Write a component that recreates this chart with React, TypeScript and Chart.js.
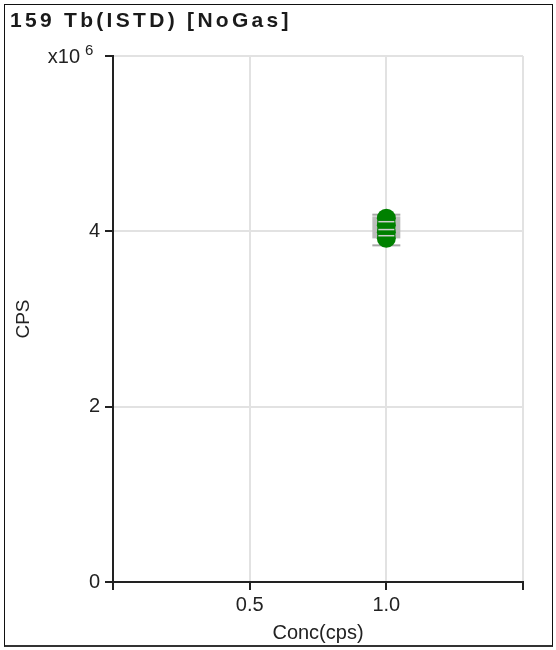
import React, { useEffect, useRef } from "react";
import { Chart, registerables } from "chart.js";

Chart.register(...registerables);

const chartTitle = "159 Tb(ISTD) [NoGas]";
const xAxisTitle = "Conc(cps)";
const yAxisTitle = "CPS";
const xTickValues = [0, 0.5, 1.0, 1.5];
const xLabelledTicks = [0.5, 1.0];
const yTickValuesMillions = [0, 2, 4, 6];
const yExponentLabel = "x10";
const yExponent = "6";

// replicate measurements at the ISTD concentration
const replicateConc = [1.0, 1.0, 1.0, 1.0];
const replicateCps = [4.15e6, 4.07e6, 3.99e6, 3.92e6];
// mean and spread
const meanConc = [1.0];
const meanCps = [4.045e6];
const whiskerConc = [1.0, 1.0];
const whiskerCps = [4.19e6, 3.84e6];
const stripeConc = [1.0, 1.0, 1.0];
const stripeCps = [4.11e6, 4.02e6, 3.95e6];

const FONT = "Arial, 'Liberation Sans', sans-serif";

const exponentPlugin = {
  id: "exponentLabel",
  afterDraw(chart: any) {
    const y = chart.scales.y;
    const py = y.getPixelForValue(yTickValuesMillions[yTickValuesMillions.length - 1] * 1e6);
    const ctx = chart.ctx;
    ctx.save();
    ctx.fillStyle = "#222";
    ctx.textBaseline = "alphabetic";
    ctx.textAlign = "right";
    ctx.font = `20px ${FONT}`;
    ctx.fillText(yExponentLabel, 80, py + 7);
    ctx.textAlign = "left";
    ctx.font = `15px ${FONT}`;
    ctx.fillText(yExponent, 85, py - 1);
    ctx.restore();
  },
};

export default function App() {
  const ref = useRef<HTMLCanvasElement | null>(null);

  useEffect(() => {
    if (!ref.current) return;
    const chart = new Chart(ref.current, {
      type: "scatter",
      data: {
        datasets: [
          {
            label: "stripes",
            data: stripeConc.map((x, i) => ({ x, y: stripeCps[i] })),
            pointStyle: "line",
            pointRadius: 8,
            borderColor: "#cfcfcf",
            borderWidth: 1.5,
            order: 0,
          },
          {
            label: "replicates",
            data: replicateConc.map((x, i) => ({ x, y: replicateCps[i] })),
            pointStyle: "circle",
            pointRadius: 9.5,
            backgroundColor: "#008000",
            borderColor: "#008000",
            borderWidth: 0,
            order: 1,
          },
          {
            label: "whiskers",
            data: whiskerConc.map((x, i) => ({ x, y: whiskerCps[i] })),
            pointStyle: "line",
            pointRadius: 14,
            borderColor: "#a8a8a8",
            borderWidth: 2,
            order: 2,
          },
          {
            label: "mean",
            data: meanConc.map((x, i) => ({ x, y: meanCps[i] })),
            pointStyle: "line",
            pointRadius: 14,
            borderColor: "#bdbdbd",
            borderWidth: 22,
            order: 3,
          },
        ],
      },
      options: {
        responsive: false,
        animation: false,
        devicePixelRatio: 1,
        layout: { autoPadding: false, padding: { left: 0, top: 56, right: 33, bottom: 0 } },
        plugins: { legend: { display: false }, tooltip: { enabled: false }, title: { display: false } },
        scales: {
          x: {
            type: "linear",
            min: xTickValues[0],
            max: xTickValues[xTickValues.length - 1],
            afterBuildTicks: (s: any) => {
              s.ticks = xTickValues.map((v) => ({ value: v }));
            },
            afterFit: (s: any) => {
              s.height = 68;
            },
            ticks: {
              autoSkip: false,
              maxRotation: 0,
              padding: 3,
              color: "#222",
              font: { family: FONT, size: 20 },
              callback: (v: any) => (xLabelledTicks.includes(Number(v)) ? Number(v).toFixed(1) : ""),
            },
            grid: {
              color: "#e2e2e2",
              lineWidth: 2,
              tickColor: "#222",
              tickLength: 8,
              tickWidth: 2,
            },
            border: { display: true, color: "#222", width: 2 },
            title: {
              display: true,
              text: xAxisTitle,
              color: "#222",
              font: { family: FONT, size: 20 },
              padding: { top: 0, bottom: 5 },
            },
          },
          y: {
            type: "linear",
            min: yTickValuesMillions[0] * 1e6,
            max: yTickValuesMillions[yTickValuesMillions.length - 1] * 1e6,
            afterBuildTicks: (s: any) => {
              s.ticks = yTickValuesMillions.map((v) => ({ value: v * 1e6 }));
            },
            afterFit: (s: any) => {
              s.width = 113;
            },
            ticks: {
              autoSkip: false,
              padding: 5,
              color: "#222",
              font: { family: FONT, size: 20 },
              callback: (v: any) => {
                const m = Number(v) / 1e6;
                return m === yTickValuesMillions[yTickValuesMillions.length - 1] ? "" : String(m);
              },
            },
            grid: {
              color: "#e2e2e2",
              lineWidth: 2,
              tickColor: "#222",
              tickLength: 8,
              tickWidth: 2,
            },
            border: { display: true, color: "#222", width: 2 },
            title: {
              display: true,
              text: yAxisTitle,
              color: "#222",
              font: { family: FONT, size: 19 },
              padding: { top: 12, bottom: 0 },
            },
          },
        },
      },
      plugins: [exponentPlugin],
    });
    return () => chart.destroy();
  }, []);

  return (
    <div style={{ position: "absolute", left: 0, top: 0, width: 556, height: 650, background: "#fff", overflow: "hidden" }}>
      <div
        style={{
          position: "absolute",
          left: 4,
          top: 4,
          width: 549,
          height: 643,
          boxSizing: "border-box",
          borderLeft: "1px solid #111",
          borderTop: "1px solid #111",
          borderRight: "1px solid #111",
          borderBottom: "2px solid #333",
        }}
      />
      <canvas ref={ref} width={556} height={650} style={{ position: "absolute", left: 0, top: 0, width: 556, height: 650 }} />
      <div
        style={{
          position: "absolute",
          left: 10,
          top: 8,
          fontFamily: FONT,
          fontWeight: "bold",
          fontSize: 21,
          letterSpacing: 3.3,
          color: "#1a1a1a",
          whiteSpace: "nowrap",
          lineHeight: "24px",
        }}
      >
        {chartTitle}
      </div>
    </div>
  );
}
